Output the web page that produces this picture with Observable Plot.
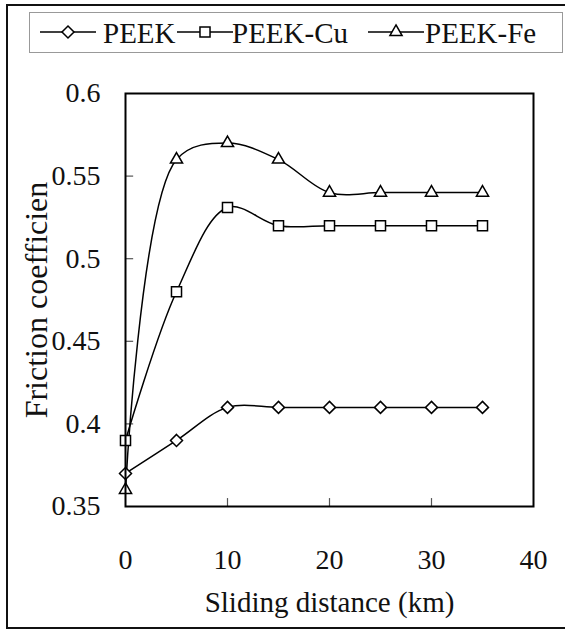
<!DOCTYPE html>
<html>
<head>
<meta charset="utf-8">
<script src="https://cdn.jsdelivr.net/npm/d3@7"></script>
<script src="https://cdn.jsdelivr.net/npm/@observablehq/plot@0.6"></script>
<style>
  html, body { margin: 0; padding: 0; background: white; }
  #wrap { position: relative; width: 565px; height: 632px; overflow: hidden; background: white; font-family: "Liberation Serif", "DejaVu Serif", serif; }
  #outer { position: absolute; left: 6px; top: 4px; width: 600px; height: 625px; border: 2px solid #111; box-sizing: border-box; }
  #legendBox { position: absolute; left: 29px; top: 12px; width: 534px; height: 41px; border: 1.5px solid #999; box-sizing: border-box; }
  .lg-sym { position: absolute; top: 22px; }
  .lg-txt { position: absolute; top: 18px; font-size: 29px; line-height: 30px; color: #111; white-space: nowrap; font-family: "Liberation Serif", "DejaVu Serif", serif; }
  #chart { position: absolute; left: 0; top: 0; }
</style>
</head>
<body>
<div id="wrap">
  <div id="outer"></div>
  <div id="legendBox"></div>
  <div id="chart"></div>
</div>
<script>
// ---- data ----
const distance = [0, 5, 10, 15, 20, 25, 30, 35];
const peek   = [0.37, 0.39, 0.41, 0.41, 0.41, 0.41, 0.41, 0.41];
const peekCu = [0.39, 0.48, 0.531, 0.52, 0.52, 0.52, 0.52, 0.52];
const peekFe = [0.36, 0.56, 0.57, 0.56, 0.54, 0.54, 0.54, 0.54];
const seriesNames = ["PEEK", "PEEK-Cu", "PEEK-Fe"];
const seriesSymbols = ["diamond2", "square2", "triangle2"];
const xTicks = [0, 10, 20, 30, 40];
const yTicks = [0.35, 0.4, 0.45, 0.5, 0.55, 0.6];
const xTitle = "Sliding distance (km)";
const yTitle = "Friction coefficien";

const seriesValues = [peek, peekCu, peekFe];
const data = [];
seriesNames.forEach((s, i) => distance.forEach((d, j) => data.push({series: s, x: d, y: seriesValues[i][j]})));

const FONT = "Liberation Serif, DejaVu Serif, serif";
const symR = {"diamond2": 5.4, "square2": 6.4, "triangle2": 5.8};
const d3Sym = {"diamond2": d3.symbolDiamond2, "square2": d3.symbolSquare2, "triangle2": d3.symbolTriangle2};

const dotMarks = seriesNames.map((s, i) =>
  Plot.dot(data.filter(d => d.series === s), {
    x: "x", y: "y", symbol: seriesSymbols[i], r: symR[seriesSymbols[i]],
    stroke: "black", fill: "white", strokeWidth: 1.5
  })
);

const chart = Plot.plot({
  width: 565, height: 632,
  marginLeft: 125, marginRight: 32, marginTop: 93, marginBottom: 126,
  style: {fontFamily: FONT, fontSize: "28px", background: "transparent", color: "#111", overflow: "visible"},
  x: {domain: [0, 40]},
  y: {domain: [0.35, 0.6]},
  marks: [
    Plot.axisX(xTicks, {tickSize: 0, tickPadding: 43, label: null}),
    Plot.axisY(yTicks, {tickSize: 0, tickPadding: 25, tickFormat: d => String(d), label: null}),
    Plot.ruleX(xTicks.slice(1, -1), {y1: 0.35, y2: 0.3548, stroke: "#555", strokeWidth: 1.2}),
    Plot.ruleY(yTicks.slice(1, -1), {x1: 0, x2: 0.8, stroke: "#555", strokeWidth: 1.2}),
    Plot.line(data, {x: "x", y: "y", z: "series", curve: "catmull-rom", stroke: "black", strokeWidth: 1.5}),
    ...dotMarks,
    Plot.frame({stroke: "black", strokeWidth: 2}),
    Plot.text([yTitle], {frameAnchor: "left", dx: -89, rotate: -90, text: d => d, textAnchor: "middle", lineAnchor: "middle", fontSize: 32, fill: "#111"}),
    Plot.text([xTitle], {frameAnchor: "bottom", dy: 96, text: d => d, textAnchor: "middle", lineAnchor: "middle", fontSize: 29, fill: "#111"})
  ]
});
document.getElementById("chart").appendChild(chart);

// ---- legend ----
const wrap = document.getElementById("wrap");
const lineStarts = [40, 177, 368];
const textStarts = [103, 232, 425];
seriesNames.forEach((s, i) => {
  const w = 56, h = 20;
  const svg = d3.create("svg").attr("class", "lg-sym").attr("width", w).attr("height", h)
    .style("left", lineStarts[i] + "px");
  svg.append("line").attr("x1", 0).attr("x2", w).attr("y1", h / 2).attr("y2", h / 2)
    .attr("stroke", "black").attr("stroke-width", 1.5);
  const r = symR[seriesSymbols[i]];
  svg.append("path").attr("d", d3.symbol(d3Sym[seriesSymbols[i]], Math.PI * r * r)())
    .attr("transform", `translate(${w / 2},${h / 2})`)
    .attr("fill", "white").attr("stroke", "black").attr("stroke-width", 1.5);
  wrap.appendChild(svg.node());
  const t = document.createElement("div");
  t.className = "lg-txt";
  t.style.left = textStarts[i] + "px";
  t.textContent = s;
  wrap.appendChild(t);
});
</script>
</body>
</html>
